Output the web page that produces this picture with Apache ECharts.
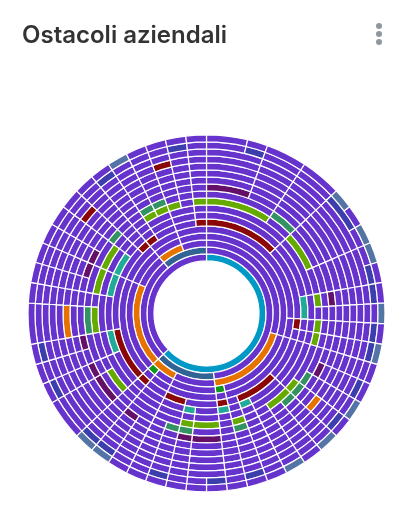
<!DOCTYPE html>
<html><head><meta charset="utf-8">
<style>html,body{margin:0;padding:0;background:#fff}#c{width:411px;height:512px}</style>
<script src="https://cdn.jsdelivr.net/npm/echarts@6/dist/echarts.min.js"></script>
</head><body><div id="c"></div>
<script>
const title = 'Ostacoli aziendali';
const leaves = 54;
const base = '#6633cc';
const ringColors = ['#0099c6','#316395','#e67300','#109618','#6633cc','#8b0707','#22aa99','#6633cc','#66aa00','#329262','#651067','#6633cc','#e67300','#6633cc','#8b0707','#6633cc','#3b3eac','#5574a6'];
const ring01 = [[0,34]];
const ring02 = [[26,34],[48,54]];
const ring03 = [[16,26],[31,34],[34,44],[48,51]];
const ring04 = [[25,26],[33,34]];
const ring05 = [];
const ring06 = [[0,7],[14,15],[20,24],[25,26],[29,31],[33,34],[34,39],[47,48],[48,49],[53,54]];
const ring07 = [[12,14],[23,24],[25,26],[28,29],[37,39],[42,44],[44,46]];
const ring08 = [];
const ring09 = [[0,5],[7,10],[12,13],[14,15],[15,16],[19,20],[20,22],[24,25],[26,28],[28,29],[34,36],[39,41],[42,44],[44,46],[49,50],[50,51],[51,52],[53,54]];
const ring10 = [[5,7],[18,19],[19,20],[20,21],[24,25],[28,29],[29,30],[39,41],[46,47],[49,50],[50,51]];
const ring11 = [[0,3],[12,13],[17,18],[26,28],[28,29],[32,33],[34,36],[36,37],[38,39],[43,44],[44,45]];
const ring12 = [];
const ring13 = [[19,20],[39,41]];
const ring14 = [];
const ring15 = [[46,47],[51,52]];
const ring16 = [];
const ring17 = [[2,3],[7,9],[11,12],[12,13],[14,15],[15,16],[17,18],[19,20],[24,25],[26,27],[29,30],[32,33],[33,34],[36,37],[38,39],[48,49],[52,53]];
const ring18 = [[7,8],[9,10],[10,11],[13,14],[15,16],[18,19],[20,21],[22,23],[32,33],[33,34],[49,50]];
// [boundary, first ring] for divisions between two neutral neighbours
const plainDivisions = [[14,5]];
const rings = [ring01,ring02,ring03,ring04,ring05,ring06,ring07,ring08,ring09,ring10,ring11,ring12,ring13,ring14,ring15,ring16,ring17,ring18];

const firstRing = new Array(leaves).fill(99);
rings.forEach((r,i)=>r.forEach(([a,b])=>{[a,b].forEach(u=>{u=u%leaves;if(i+1<firstRing[u])firstRing[u]=i+1;});}));
plainDivisions.forEach(([u,r])=>{if(r<firstRing[u])firstRing[u]=r;});

const series = rings.map((accents,i)=>{
  const cuts=[];
  for(let u=0;u<leaves;u++) if(firstRing[u]<=i+1) cuts.push(u);
  if(!cuts.length) cuts.push(0);
  const data=[];
  cuts.forEach((u,k)=>{
    const next = k+1<cuts.length?cuts[k+1]:cuts[0]+leaves;
    const hit = accents.some(([a,b])=>u>=a&&u<b);
    data.push({value:next-u,itemStyle:{color:hit?ringColors[i]:base}});
  });
  const first=cuts[0]*360/leaves;
  return {type:'pie',silent:true,animation:false,center:[206.5,313.4],radius:[52.5+7*i,59.5+7*i],
    startAngle:90-first,clockwise:true,label:{show:false},labelLine:{show:false},
    itemStyle:{borderColor:'#fff',borderWidth:1.2},data};
});
const chart = echarts.init(document.getElementById('c'),null,{renderer:'canvas'});
chart.setOption({
  animation:false,
  title:{text:title,left:22,top:24,padding:0,textStyle:{fontFamily:'Inter',fontWeight:600,fontSize:24,color:'#333333'}},
  graphic:[26,34,42].map(y=>({type:'circle',shape:{cx:379,cy:y,r:3},style:{fill:'#8f979f'}})),
  series
});
</script></body></html>
